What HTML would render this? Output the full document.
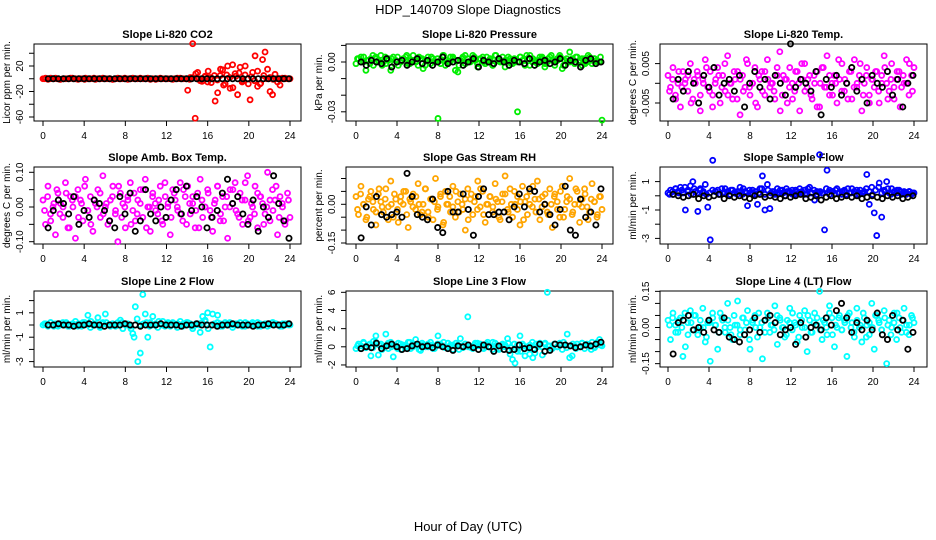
<!DOCTYPE html>
<html><head><meta charset="utf-8">
<style>
html,body{margin:0;padding:0;background:#fff;}
svg{display:block;font-family:"Liberation Sans",sans-serif;}
</style></head>
<body>
<svg id="chart" width="936" height="540" viewBox="0 0 936 540">
<text x="468" y="14" text-anchor="middle" font-size="13">HDP_140709  Slope Diagnostics</text>
<text x="468" y="531" text-anchor="middle" font-size="13">Hour of Day (UTC)</text>
</svg>
<script>
// ---- data (raw units per panel) ----
const hourTicks = [0,4,8,12,16,20,24];
const co2 = [0,1,-1,0,0,1,0,-1,0,0, 0,1,0,0,-1,0,0,1,0,0, 0,-1,0,0,1,0,0,0,-1,0, 1,0,0,0,-1,0,1,0,0,0, 0,0,1,-1,0,0,0,1,0,0, 0,0,-1,0,0,1,0,0,-18,2, 55,-62,10,-3,0,4,-5,2,0,-35,-22,5,14,-8,20,-15,22,8,-25,18, -3,6,0,-33,10,36,-12,-8,30,42, 15,-20,-25,7,-5,-10,0,1,0,0];
const co2B = [0,0,1,0,0,-1,0,0,0,1, 0,0,0,-1,0,0,1,0,0,0, 0,0,-1,0,0,0,1,0,0,0, 0,1,0,0,0,0,-1,0,0,0, 0,0,0,1,0,0,0,-1,2,8, 0,-4,3,12,-6,5,-2,15,-10,6, 2,-14,4,9,-5,20,-8,3,-3,12, -7,5,0,2,-1,0,0,1,0,0];
const co2Black = [0,0,0,0,0,0,0,0,0,0, 0,0,0,0,0,0,0,0,0,0, 0,0,0,0,0,0,0,0,0,0, 0,0,0,0,0,0,0,0,0,0, 0,0,0,0,0,0,0,0];
const press = [-1,2,3,0,-5,1,2,-2,3,1, 4,0,-1,2,-5,3,1,-2,0,2, 3,-1,1,4,0,-2,2,-4,1,3, -1,2,0,-34,1,4,-2,0,3,2, -5,-6,1,3,-1,2,0,4,1,-3, 2,3,-1,0,2,-2,4,1,0,3, -3,1,2,-1,0,-30,3,1,-2,2, 4,0,1,-1,3,2,-3,0,3,1, -2,2,4,-4,1,0,6,2,-1,3, 1,-2,2,0,3,-1,2,1,0,-35];
const pressB = [2,0,3,1,-1,4,2,0,-2,3, 1,2,-1,3,0,2,4,-1,1,0, 3,2,-2,1,3,0,2,-1,4,1, 0,3,1,-2,2,4,0,1,3,-1, 2,0,3,1,-2,4,2,0,1,3, -1,2,0,3,1,4,-2,2,0,1, 3,-1,2,4,0,1,3,-2,2,0, 1,3,0,2,-1,4,1,2,0,3];
const pressBlack = [0,-2,1,0,-1,2,-3,0,1,-2, 0,2,-1,1,-2,0,3,-1,0,1, -2,0,2,-3,1,0,-1,2,0,-2, 1,0,-1,2,-2,0,1,-1,0,2, -2,1,0,-3,1,2,-1,0];
const ltemp = [2,-1,4,-3,0,-6,3,1,-2,5, -4,0,2,-7,1,6,-1,3,-3,0, 4,-5,2,-2,7,0,-4,1,3,-8, 2,-1,5,-3,0,4,-6,1,-2,3, 6,-1,0,-4,2,8,-3,1,-5,4, 0,-2,3,-7,1,5,-1,2,-4,0, 3,-6,4,-1,7,-3,0,2,-5,1, 5,-2,0,3,-4,6,-1,2,-7,0, 4,-3,1,-1,3,-5,2,7,0,-2, 5,-4,1,3,-1,0,6,-3,2,4];
const ltempB = [-2,1,-4,3,-1,0,2,-5,1,3, -3,0,4,-2,-6,1,2,-1,5,-3, 0,3,-4,1,-2,6,-1,0,-5,2, 3,-3,1,0,-2,4,-7,2,1,-1, -4,3,0,5,-2,1,-3,2,-6,0, 4,-1,2,-3,0,6,-2,1,-4,3, -1,0,5,-3,2,-5,1,3,-2,0, 4,-4,1,-1,3,-6,2,0,5,-2];
const ltempBlack = [-4,1,-2,3,0,-5,2,-1,4,-3, 0,1,-2,2,-6,0,3,-1,1,-4, 2,0,-3,10,-1,1,0,-2,3,-8, 1,-1,2,-3,0,4,-2,1,-5,2, 0,-1,3,-3,1,-6,0,2];
const amb = [2,-5,6,-2,0,-8,4,1,-3,7, -6,3,0,-9,5,2,-4,8,-1,3, -7,1,5,-3,9,0,-5,2,6,-2, -10,4,1,-6,3,7,-1,-4,2,5, -3,8,0,-7,4,1,-2,6,-5,3, 0,-8,5,2,-1,7,-4,3,6,-2, 1,-6,4,8,-3,0,5,-1,-7,2, 6,-4,3,0,-9,5,1,7,-2,4, -5,2,9,-3,0,6,-6,3,1,-2, 10,-4,5,2,-8,3,0,-5,4,-3];
const ambB = [-1,3,-4,1,5,-2,0,4,-6,2, 3,-3,1,6,-1,-5,2,0,4,-2, 1,-4,3,-1,6,-3,0,2,-5,4, -2,1,5,-6,0,3,-1,2,-4,7, 1,-3,4,0,-2,5,-5,1,3,-1, -6,2,0,4,-3,1,6,-2,-4,3, 0,5,-1,-3,2,7,-4,1,-2,4, 3,-5,0,2,-1,6,-3,1,-4,2];
const ambBlack = [-6,-1,2,1,-2,3,-5,-1,-3,2, 1,-1,-4,-6,3,-2,4,-7,-4,5, -2,-4,0,-3,2,5,-2,6,-1,3, 0,-6,-3,-1,4,8,1,3,-2,-5, 2,-7,0,-3,9,1,-4,-9];
const rh = [3,-4,7,0,-6,2,5,-2,-8,4, 1,-3,6,-1,9,-5,2,-7,3,0, 5,-9,1,4,-2,8,-4,0,6,-3, 2,-6,10,-1,3,-8,5,0,-3,7, -5,1,4,-2,-10,6,2,-4,3,9, -1,5,-7,0,3,-3,8,1,-6,4, 11,-2,6,-5,0,3,-8,7,1,-4, 5,-1,2,9,-6,3,0,-3,6,-9, 4,1,-5,7,-2,3,10,-4,0,5, -7,2,6,-1,-3,8,1,-5,3,-2];
const rhB = [-2,4,0,-5,3,1,-3,6,-1,2, -6,0,4,-2,1,5,-4,2,-1,3, 0,-3,6,-5,2,1,-2,4,-7,0, 3,-1,5,-3,0,2,-6,4,1,-2, 6,-4,0,3,-1,2,-5,1,4,-3, 0,5,-2,1,-6,3,0,7,-3,2, -1,4,-4,0,3,-2,5,-5,1,2, -3,6,0,-1,4,-6,2,1,-4,3];
const rhBlack = [-13,-1,-8,3,-4,-5,-4,-3,-5,12, 3,-4,-5,-6,2,-9,-11,5,-3,-3, 4,-2,-12,3,6,-4,-4,-3,-3,-6, -1,4,-1,6,5,-3,0,-4,-8,-2, 7,-10,-12,2,-5,-3,-8,6];
const sflow = [2,4,1,5,3,6,2,-10,4,7, 10,3,-11,5,2,8,-8,-31,25,3, 4,1,2,5,3,1,4,2,3,6, 1,3,-7,2,4,1,-6,5,14,-10, 8,-9,3,1,5,2,4,0,3,2, 4,1,3,5,2,4,1,6,2,-3, 3,29,2,-24,18,4,3,1,5,2, 3,4,1,2,5,3,4,1,2,3, 15,-6,6,-12,-28,9,-15,4,10,2, 5,3,2,4,1,3,2,3,1,2];
const sflowB = [1,3,5,2,4,6,3,1,5,2, 4,3,1,2,4,3,1,5,2,3, 4,2,1,3,5,2,4,1,3,2, 5,1,4,2,3,1,4,2,5,3, 1,4,2,3,1,5,2,4,1,3, 2,5,1,3,4,2,1,3,5,2, 3,1,4,2,5,3,1,4,6,2, 3,5,1,2,4,3,2,1,3,2];
const sflowBlack = [1,0,-1,0,1,-2,0,-1,0,1, -2,0,-1,0,-1,-2,0,1,-1,0, -1,-2,0,-1,0,1,-2,-1,0,-3, -1,0,-2,-1,0,-1,0,-2,-1,0, -1,-2,0,-1,0,-2,-1,0];
const l2 = [0,1,-1,2,0,1,-1,0,2,1, -1,0,1,3,-1,0,2,1,8,-2, 0,1,6,-1,2,9,0,-1,1,0, 2,4,-3,0,1,-1,-7,15,-30,-23, 25,9,-10,2,7,0,-2,1,3,0, 1,-1,2,0,1,3,-1,0,2,1, -3,0,1,-6,7,3,10,-18,9,0, 8,1,-1,2,0,1,-2,0,1,2, 0,-1,1,0,2,0,-1,1,0,1, -1,0,2,1,0,-1,1,0,1,0];
const l2B = [1,0,2,-1,0,1,0,2,-1,1, 0,1,-1,2,0,3,1,0,-2,1, 2,0,1,-1,0,2,1,0,-3,-10, 5,0,1,2,-1,0,1,3,0,-1, 2,0,1,-2,0,1,2,0,-1,1, 0,2,4,-3,0,1,2,-1,0,1, 2,0,1,0,-1,2,0,1,0,2, -1,0,1,0,2,1,0,-1,1,0];
const l2Black = [0,0,1,0,0,-1,0,0,1,0, 0,-1,0,0,0,1,0,0,-1,0, 0,0,1,0,0,0,-1,0,0,1, 0,0,0,-1,0,0,1,0,0,0, -1,0,0,1,0,0,0,1];
const l3 = [-2,3,1,5,-1,2,-10,6,12,-9, 3,0,14,-2,5,-11,1,4,-3,2, 0,5,-2,3,8,1,-4,2,0,3, 5,-2,1,12,3,0,-1,4,2,-3, 1,2,9,-1,3,33,0,-2,4,1, 3,-1,2,5,0,-3,4,1,-2,3, 2,9,-8,-14,-18,-5,12,3,-10,-1, 2,5,-7,0,4,-9,3,60,1,-2, 3,0,4,-3,2,14,-12,-10,1,3, 0,4,-2,3,1,5,-1,2,8,1];
const l3B = [1,-2,4,0,3,-1,5,2,-3,1, 4,0,2,-2,3,1,-1,5,0,2, -3,4,1,0,2,-2,3,1,5,-1, 0,2,4,-3,1,3,0,-1,2,4, 1,-2,3,0,5,1,-3,2,0,4, -1,3,2,-5,1,0,-8,-12,3,2, 0,4,1,-2,3,0,2,5,-1,1, 3,-2,0,4,2,1,-3,0,5,2];
const l3Black = [-2,0,-1,4,-2,1,3,0,-3,-2, 1,3,0,1,-1,2,0,-2,-4,1, 0,2,-1,-3,2,0,-5,1,-3,-4, -3,2,-2,-1,-3,3,-5,-4,3,2, 2,1,-1,0,2,1,3,5];
const l4 = [3,-5,6,1,-2,4,-12,-8,2,7, -1,5,-3,0,8,-6,2,-14,4,1, -9,6,3,-2,10,0,-5,1,11,-3, 4,-1,7,-9,2,5,-4,0,-13,3, 6,-2,1,9,-7,4,0,-4,3,8, -1,2,-6,5,0,7,-10,3,-2,6, 1,15,-5,2,-3,9,4,-8,0,5, -1,3,-12,6,2,-4,8,0,-6,4, 1,-3,10,-9,5,2,-1,7,-15,3, 0,6,-5,4,-2,8,1,-3,5,2];
const l4B = [1,4,-2,3,0,6,-3,2,5,-1, 3,0,-4,2,6,1,-2,4,0,3, -3,5,1,-1,4,2,-5,3,0,6, 2,-2,4,1,-1,5,3,0,-3,2, 6,1,-4,3,0,5,-2,2,4,-1, 3,0,6,-3,1,4,-1,2,5,0, -2,3,1,6,-4,2,0,5,3,-1, 4,1,-3,2,6,0,3,-2,1,4];
const l4Black = [-11,2,3,5,-1,0,-2,3,-1,-2, 4,-4,-5,-6,-3,-1,4,-2,3,5, 2,-3,-1,0,-7,2,-4,0,1,-1, 4,1,7,10,4,-2,2,-1,3,-1, 6,-3,-5,5,-1,3,-9,-2];
// y tick values (raw units) and labels
const co2Ticks=[-60,-40,-20,0,20,40], co2Labels=['-60','','-20','','20',''];
const pressTicks=[10,0,-10,-20,-30], pressLabels=['','0.00','','','-0.03'];
const ltempTicks=[5,0,-5], ltempLabels=['0.005','','-0.005'];
const ambTicks=[10,5,0,-5,-10], ambLabels=['0.10','','0.00','','-0.10'];
const rhTicks=[10,5,0,-5,-10,-15], rhLabels=['','','0.00','','','-0.15'];
const sflowTicks=[10,0,-10,-20,-30], sflowLabels=['1','','-1','','-3'];
const l2Ticks=[20,10,0,-10,-20,-30], l2Labels=['','1','','-1','','-3'];
const l3Ticks=[60,40,20,0,-20], l3Labels=['6','4','2','0','-2'];
const l4Ticks=[15,10,5,0,-5,-10,-15], l4Labels=['0.15','','','0.00','','','-0.15'];

// ---- layout ----
const cols=[{bl:34,br:301,x0:43,x24:290},{bl:346,br:613,x0:356,x24:602},{bl:660,br:927,x0:668,x24:914}];
const rows=[{bt:44,bb:121},{bt:167,bb:244},{bt:291,bb:367}];
const panels=[
 {name:'co2',c:0,r:0,title:'Slope Li-820 CO2',yl:'Licor ppm per min.',col:'#ff0000',d:co2,d2:co2B,b:co2Black,z:78.75,k:0.6375,t:co2Ticks,tl:co2Labels},
 {name:'pressure',c:1,r:0,title:'Slope Li-820 Pressure',yl:'kPa per min.',col:'#00ee00',d:press,d2:pressB,b:pressBlack,z:62,k:1.66,t:pressTicks,tl:pressLabels},
 {name:'li820-temp',c:2,r:0,title:'Slope Li-820 Temp.',yl:'degrees C per min.',col:'#ff00ff',d:ltemp,d2:ltempB,b:ltempBlack,z:83.3,k:3.94,t:ltempTicks,tl:ltempLabels},
 {name:'amb-box-temp',c:0,r:1,title:'Slope Amb. Box Temp.',yl:'degrees C per min.',col:'#ff00ff',d:amb,d2:ambB,b:ambBlack,z:207,k:3.47,t:ambTicks,tl:ambLabels},
 {name:'gas-stream-rh',c:1,r:1,title:'Slope Gas Stream RH',yl:'percent per min.',col:'#ffa500',d:rh,d2:rhB,b:rhBlack,z:204.3,k:2.58,t:rhTicks,tl:rhLabels},
 {name:'sample-flow',c:2,r:1,title:'Slope Sample Flow',yl:'ml/min per min.',col:'#0000ff',d:sflow,d2:sflowB,b:sflowBlack,z:195.8,k:1.42,t:sflowTicks,tl:sflowLabels},
 {name:'line2-flow',c:0,r:2,title:'Slope Line 2 Flow',yl:'ml/min per min.',col:'#00ffff',d:l2,d2:l2B,b:l2Black,z:325,k:1.22,t:l2Ticks,tl:l2Labels},
 {name:'line3-flow',c:1,r:2,title:'Slope Line 3 Flow',yl:'ml/min per min.',col:'#00ffff',d:l3,d2:l3B,b:l3Black,z:346.8,k:0.908,t:l3Ticks,tl:l3Labels},
 {name:'line4-flow',c:2,r:2,title:'Slope Line 4 (LT) Flow',yl:'ml/min per min.',col:'#00ffff',d:l4,d2:l4B,b:l4Black,z:327.5,k:2.41,t:l4Ticks,tl:l4Labels}
];
const NS='http://www.w3.org/2000/svg';
const svg=document.getElementById('chart');
function mk(tag,attrs,parent){const e=document.createElementNS(NS,tag);for(const a in attrs)e.setAttribute(a,attrs[a]);parent.appendChild(e);return e;}
panels.forEach(p=>{
 const C=cols[p.c],R=rows[p.r];
 const xs=h=>C.x0+(C.x24-C.x0)*h/24;
 const ys=v=>p.z-v*p.k;
 const g=mk('g',{},svg);
 
 
 const t=mk('text',{x:(C.bl+C.br)/2,y:R.bt-6,'text-anchor':'middle','font-size':'11','font-weight':'bold'},g);
 t.textContent=p.title;
 
 
 const yl=mk('text',{x:0,y:0,'text-anchor':'middle','font-size':'10',transform:`translate(${C.bl-24},${(R.bt+R.bb)/2}) rotate(-90)`},g);
 yl.textContent=p.yl;
 
 
 const ya=mk('g',{},g);
 
 
 p.t.forEach((v,i)=>{
  const y=ys(v);
  mk('line',{x1:C.bl-5,x2:C.bl,y1:y,y2:y,stroke:'#000'},ya);
  if(p.tl[i]){const lt=mk('text',{x:0,y:0,'text-anchor':'middle','font-size':'10',transform:`translate(${C.bl-11},${y}) rotate(-90)`},ya);lt.textContent=p.tl[i];
   
   }
 });
 const xa=mk('g',{},g);
 
 
 hourTicks.forEach(h=>{
  mk('line',{x1:xs(h),x2:xs(h),y1:R.bb,y2:R.bb+5,stroke:'#000'},xa);
  const xt=mk('text',{x:xs(h),y:R.bb+18,'text-anchor':'middle','font-size':'10'},xa);xt.textContent=h;
  
  
 });
 const box=mk('rect',{x:C.bl,y:R.bt,width:C.br-C.bl,height:R.bb-R.bt,fill:'none',stroke:'#000'},g);
 
 
 const sg=mk('g',{fill:'none',stroke:p.col,'stroke-width':'1.8'},g);
 
 
 p.d.forEach((v,i)=>{
  const c=mk('circle',{cx:xs(24*i/(p.d.length-1)),cy:ys(v),r:2.5},sg);
  
  
 });
 p.d2.forEach((v,i)=>{
  const c=mk('circle',{cx:xs(24*(i+0.5)/p.d2.length),cy:ys(v),r:2.5},sg);
  
  
 });
 const bg=mk('g',{fill:'none',stroke:'#000','stroke-width':'1.8'},g);
 
 
 p.b.forEach((v,i)=>{
  const c=mk('circle',{cx:xs(0.5+23.4*i/(p.b.length-1)),cy:ys(v),r:2.6},bg);
  
  
 });
});
</script>
</body></html>
